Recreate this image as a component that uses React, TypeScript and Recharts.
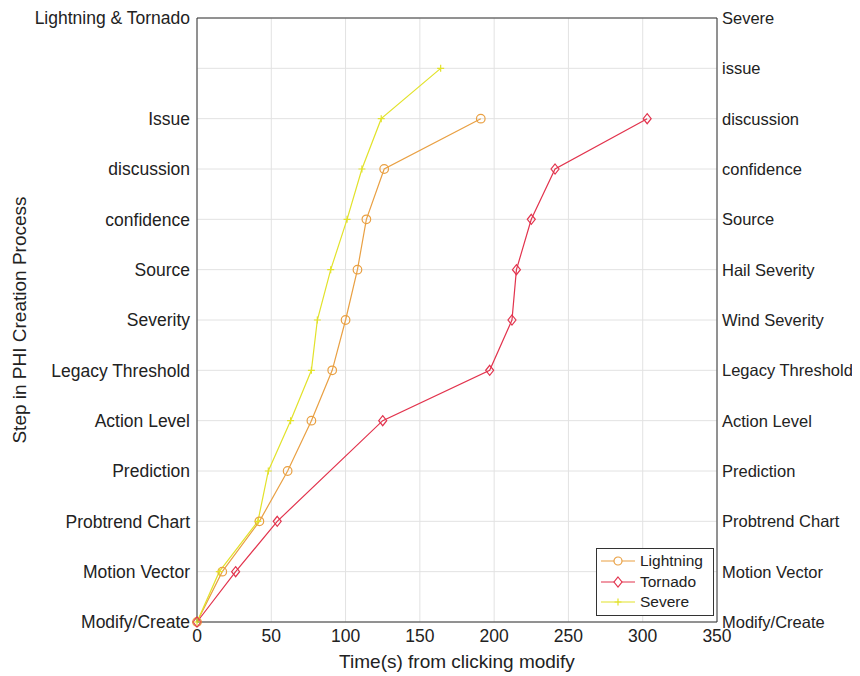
import React from "react";
import {
  LineChart,
  Line,
  XAxis,
  YAxis,
  CartesianGrid,
  ReferenceLine,
} from "recharts";

const leftSteps = [
  "Modify/Create",
  "Motion Vector",
  "Probtrend Chart",
  "Prediction",
  "Action Level",
  "Legacy Threshold",
  "Severity",
  "Source",
  "confidence",
  "discussion",
  "Issue",
  "",
  "Lightning & Tornado",
];

const rightSteps = [
  "Modify/Create",
  "Motion Vector",
  "Probtrend Chart",
  "Prediction",
  "Action Level",
  "Legacy Threshold",
  "Wind Severity",
  "Hail Severity",
  "Source",
  "confidence",
  "discussion",
  "issue",
  "Severe",
];

const xTicks = [0, 50, 100, 150, 200, 250, 300, 350];
const yTicks = [0, 1, 2, 3, 4, 5, 6, 7, 8, 9, 10, 11, 12];

const lightningTime = [0, 17, 42, 61, 77, 91, 100, 108, 114, 126, 191];
const lightningStep = [0, 1, 2, 3, 4, 5, 6, 7, 8, 9, 10];

const tornadoTime = [0, 26, 54, 125, 197, 212, 215, 225, 241, 303];
const tornadoStep = [0, 1, 2, 4, 5, 6, 7, 8, 9, 10];

const severeTime = [0, 15, 41, 48, 63, 77, 81, 90, 101, 111, 124, 164];
const severeStep = [0, 1, 2, 3, 4, 5, 6, 7, 8, 9, 10, 11];

const ORANGE = "#e9a043";
const RED = "#e2334d";
const YELLOW = "#e2e22a";
const FONT = "'Liberation Sans', Arial, Helvetica, sans-serif";

const toPoints = (t: number[], s: number[]) => t.map((time, i) => ({ time, step: s[i] }));

const lightningData = toPoints(lightningTime, lightningStep);
const tornadoData = toPoints(tornadoTime, tornadoStep);
const severeData = toPoints(severeTime, severeStep);

const CircleDot = (p: any) => (
  <circle key={p.key} cx={p.cx} cy={p.cy} r={4.3} fill="none" stroke={ORANGE} strokeWidth={1.2} />
);

const DiamondDot = (p: any) => (
  <path
    key={p.key}
    d={`M${p.cx},${p.cy - 5}L${p.cx + 4},${p.cy}L${p.cx},${p.cy + 5}L${p.cx - 4},${p.cy}Z`}
    fill="none"
    stroke={RED}
    strokeWidth={1.2}
  />
);

const PlusDot = (p: any) => (
  <path
    key={p.key}
    d={`M${p.cx - 3.5},${p.cy}H${p.cx + 3.5}M${p.cx},${p.cy - 3.5}V${p.cy + 3.5}`}
    stroke={YELLOW}
    strokeWidth={1.2}
  />
);

const legendItems = [
  { name: "Lightning", color: ORANGE, kind: "circle" },
  { name: "Tornado", color: RED, kind: "diamond" },
  { name: "Severe", color: YELLOW, kind: "plus" },
];

const LegendBox = () => (
  <div
    style={{
      position: "absolute",
      left: 588,
      top: 540,
      border: "1px solid #333",
      background: "#fff",
      width: 118,
      padding: "2px 0",
      fontFamily: FONT,
      fontSize: 15.5,
      color: "#222",
      boxSizing: "border-box",
    }}
  >
    {legendItems.map((it) => (
      <div key={it.name} style={{ display: "flex", alignItems: "center", height: 20.5 }}>
        <svg width={41} height={14} style={{ marginLeft: 2 }}>
          <line x1={2} y1={7} x2={36} y2={7} stroke={it.color} strokeWidth={1.2} />
          {it.kind === "circle" && <circle cx={19} cy={7} r={4} fill="#fff" stroke={it.color} strokeWidth={1.2} />}
          {it.kind === "diamond" && (
            <path d="M19,2L23,7L19,12L15,7Z" fill="#fff" stroke={it.color} strokeWidth={1.2} />
          )}
          {it.kind === "plus" && <path d="M15.5,7H22.5M19,3.5V10.5" stroke={it.color} strokeWidth={1.2} />}
        </svg>
        <span>{it.name}</span>
      </div>
    ))}
  </div>
);

const tickStyle = { fontFamily: FONT, fontSize: 17.5, fill: "#222" };
const rightTickStyle = { fontFamily: FONT, fontSize: 16.5, fill: "#222" };
const titleStyle = { fontFamily: FONT, fontSize: 19, fill: "#222" };

export default function App() {
  return (
    <div style={{ position: "relative", width: 852, height: 668 }}>
      <LineChart width={852} height={668} margin={{ top: 10, right: 0, bottom: 0, left: 0 }}>
        <CartesianGrid yAxisId="left" stroke="#e2e2e2" strokeWidth={1} />
        <XAxis
          dataKey="time"
          type="number"
          domain={[0, 350]}
          ticks={xTicks}
          height={54}
          stroke="#333"
          tickLine={false}
          tickSize={5}
          tickMargin={3}
          tick={tickStyle}
          allowDuplicatedCategory={false}
          label={{
            value: "Time(s) from clicking modify",
            position: "insideBottom",
            offset: 8,
            style: titleStyle,
          }}
        />
        <YAxis
          yAxisId="left"
          type="number"
          dataKey="step"
          domain={[0, 12]}
          ticks={yTicks}
          interval={0}
          width={189}
          stroke="#333"
          tickLine={false}
          tickSize={5}
          tickMargin={2}
          tick={tickStyle}
          tickFormatter={(v: number) => leftSteps[v]}
          label={{
            value: "Step in PHI Creation Process",
            angle: -90,
            position: "insideLeft",
            offset: 11,
            style: { ...titleStyle, textAnchor: "middle" },
          }}
        />
        <YAxis
          yAxisId="right"
          orientation="right"
          type="number"
          dataKey="step"
          domain={[0, 12]}
          ticks={yTicks}
          interval={0}
          width={143}
          stroke="#333"
          tickLine={false}
          tickSize={4}
          tickMargin={1}
          tick={rightTickStyle}
          tickFormatter={(v: number) => rightSteps[v]}
        />
        <ReferenceLine yAxisId="left" y={12} stroke="#333" />
        <Line
          yAxisId="left"
          data={lightningData}
          dataKey="step"
          name="Lightning"
          stroke={ORANGE}
          strokeWidth={1.2}
          dot={CircleDot}
          isAnimationActive={false}
        />
        <Line
          yAxisId="left"
          data={tornadoData}
          dataKey="step"
          name="Tornado"
          stroke={RED}
          strokeWidth={1.2}
          dot={DiamondDot}
          isAnimationActive={false}
        />
        <Line
          yAxisId="right"
          data={severeData}
          dataKey="step"
          name="Severe"
          stroke={YELLOW}
          strokeWidth={1.2}
          dot={PlusDot}
          isAnimationActive={false}
        />
      </LineChart>
      <LegendBox />
    </div>
  );
}
